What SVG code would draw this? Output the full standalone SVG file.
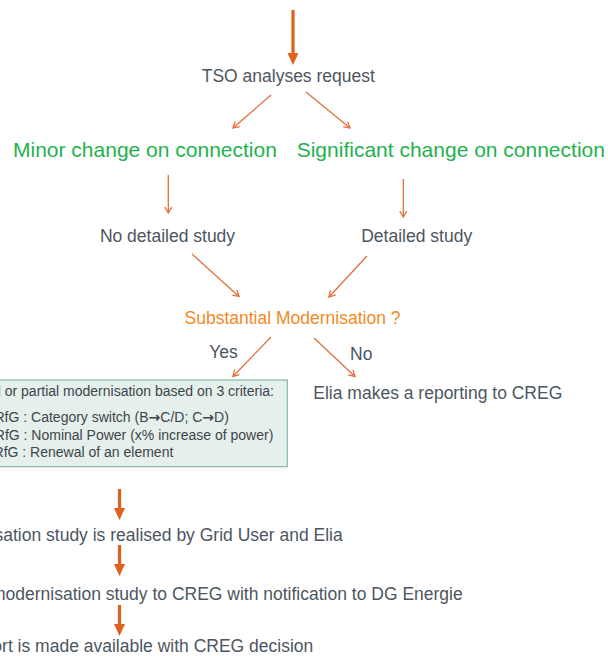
<svg xmlns="http://www.w3.org/2000/svg" width="608" height="656" viewBox="0 0 608 656">
<defs>
<style>
text{font-family:"Liberation Sans",Arial,sans-serif;}
.t{font-size:17.5px;fill:#4d565f;}
.g{font-size:21px;fill:#1fb24f;}
.o{font-size:17.5px;fill:#f28a24;}
.b{font-size:14px;fill:#3e454b;}
.ar{font-family:"DejaVu Sans",sans-serif;font-weight:bold;font-size:14px;}
.thin{stroke:#e2703c;stroke-width:1.3;fill:none;marker-end:url(#ah);}
.thick{stroke:#e0601e;stroke-width:3.2;fill:none;marker-end:url(#bh);}
</style>
<marker id="ah" markerUnits="userSpaceOnUse" markerWidth="10" markerHeight="10" refX="7" refY="4" orient="auto">
<path d="M1,0.5 L7,4 L1,7.5" fill="none" stroke="#e2703c" stroke-width="1.3"/>
</marker>
<marker id="bh" markerUnits="userSpaceOnUse" markerWidth="14" markerHeight="12" refX="4" refY="5.5" orient="auto">
<path d="M0,0 L12,5.5 L0,11 z" fill="#e0601e"/>
</marker>
</defs>
<rect width="608" height="656" fill="#ffffff"/>
<g id="connectors">
<line class="thick" x1="293" y1="10" x2="293" y2="57"/>
<line class="thin" x1="271" y1="95" x2="233" y2="128"/>
<line class="thin" x1="306" y1="92" x2="350" y2="128"/>
<line class="thin" x1="168.3" y1="175" x2="168.3" y2="213"/>
<line class="thin" x1="403.3" y1="179" x2="403.3" y2="217"/>
<line class="thin" x1="192" y1="254" x2="239" y2="296.5"/>
<line class="thin" x1="367" y1="256" x2="329" y2="297"/>
<line class="thin" x1="271" y1="337" x2="233" y2="376.5"/>
<line class="thin" x1="314" y1="338" x2="355" y2="376.5"/>
<line class="thick" x1="119.5" y1="489" x2="119.5" y2="512"/>
<line class="thick" x1="119.5" y1="545" x2="119.5" y2="568"/>
<line class="thick" x1="119.5" y1="605" x2="119.5" y2="628"/>
</g>
<g id="tso"><text class="t" x="288.3" y="82" text-anchor="middle">TSO analyses request</text></g>
<g id="minor"><text class="g" x="13" y="156.5">Minor change on connection</text></g>
<g id="significant"><text class="g" x="296.7" y="156.5">Significant change on connection</text></g>
<g id="no-detailed"><text class="t" x="167.5" y="241.7" text-anchor="middle">No detailed study</text></g>
<g id="detailed"><text class="t" x="416.7" y="241.7" text-anchor="middle">Detailed study</text></g>
<g id="substantial"><text class="o" x="292.5" y="324" text-anchor="middle">Substantial Modernisation ?</text></g>
<g id="yes"><text class="t" x="209.3" y="358.3">Yes</text></g>
<g id="no"><text class="t" x="350" y="360">No</text></g>
<g id="criteria">
<rect x="-2" y="380" width="289.3" height="86.7" fill="#e5efec" stroke="#86b8a5" stroke-width="1.2"/>
<text class="b" x="274" y="396" text-anchor="end">l or partial modernisation based on 3 criteria:</text>
<text class="b" x="-5.5" y="422.3">RfG : Category switch (B<tspan class="ar">→</tspan>C/D; C<tspan class="ar">→</tspan>D)</text>
<text class="b" x="273.3" y="440" text-anchor="end">RfG : Nominal Power (x% increase of power)</text>
<text class="b" x="173.3" y="457.3" text-anchor="end">RfG : Renewal of an element</text>
</g>
<g id="elia-report"><text class="t" x="313.3" y="399.3">Elia makes a reporting to CREG</text></g>
<g id="study"><text class="t" x="342.7" y="540.5" text-anchor="end">sation study is realised by Grid User and Elia</text></g>
<g id="send"><text class="t" x="462.7" y="599.5" text-anchor="end">modernisation study to CREG with notification to DG Energie</text></g>
<g id="report"><text class="t" x="313.3" y="652" text-anchor="end">ort is made available with CREG decision</text></g>
</svg>
